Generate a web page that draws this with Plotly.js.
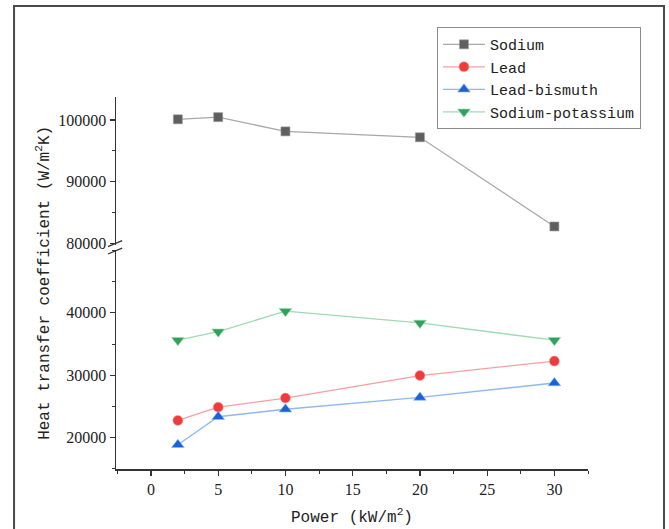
<!DOCTYPE html>
<html>
<head>
<meta charset="utf-8">
<script src="https://cdn.plot.ly/plotly-3.0.1.min.js"></script>
<style>
  html, body { margin: 0; padding: 0; background: #ffffff; }
  #chart { width: 669px; height: 529px; }
</style>
</head>
<body>
<div id="chart"></div>
<script>
// Data
const power = [2, 5, 10, 20, 30];
const sodium = [100100, 100450, 98150, 97200, 82800];
const lead = [22760, 24880, 26340, 29950, 32270];
const leadBismuth = [18860, 23350, 24550, 26440, 28760];
const sodiumPotassium = [35620, 36980, 40280, 38390, 35620];

const seriesNames = ['Sodium', 'Lead', 'Lead-bismuth', 'Sodium-potassium'];
const xTickVals = [0, 5, 10, 15, 20, 25, 30];
const yLowTickVals = [20000, 30000, 40000];
const yHighTickVals = [80000, 90000, 100000];

const monoFont = 'Liberation Mono, DejaVu Sans Mono, monospace';
const serifFont = 'Times New Roman, Liberation Serif, DejaVu Serif, serif';

const traces = [
  {
    x: power, y: sodium, name: seriesNames[0], yaxis: 'y2', type: 'scatter', mode: 'lines+markers',
    line: {color: '#a8a8a8', width: 1.3},
    marker: {symbol: 'square', size: 9, color: '#5f5f5f', line: {color: '#9a9a9a', width: 0.6}}
  },
  {
    x: power, y: lead, name: seriesNames[1], yaxis: 'y', type: 'scatter', mode: 'lines+markers',
    line: {color: '#f5a0a0', width: 1.3},
    marker: {symbol: 'circle', size: 10, color: '#ee3b3b', line: {color: '#f5a0a0', width: 0.6}}
  },
  {
    x: power, y: leadBismuth, name: seriesNames[2], yaxis: 'y', type: 'scatter', mode: 'lines+markers',
    line: {color: '#8fb8ee', width: 1.3},
    marker: {symbol: 'triangle-up', size: 11, color: '#1763dc', line: {color: '#8fb8ee', width: 0.6}}
  },
  {
    x: power, y: sodiumPotassium, name: seriesNames[3], yaxis: 'y', type: 'scatter', mode: 'lines+markers',
    line: {color: '#9fdab3', width: 1.3},
    marker: {symbol: 'triangle-down', size: 11, color: '#2ea25a', line: {color: '#9fdab3', width: 0.6}}
  }
];

const axisColor = '#333333';

const layout = {
  width: 669,
  height: 529,
  paper_bgcolor: '#ffffff',
  plot_bgcolor: '#ffffff',
  margin: {l: 116, r: 81, t: 97, b: 60},
  showlegend: true,
  legend: {
    x: 0.68, y: 1.188, xanchor: 'left', yanchor: 'top',
    bgcolor: '#ffffff', bordercolor: '#8a8a8a', borderwidth: 1,
    font: {family: monoFont, size: 15, color: '#222'},
    itemwidth: 42,
    tracegroupgap: 0
  },
  xaxis: {
    range: [-2.6, 32.5],
    tickvals: xTickVals,
    tickformat: 'd',
    ticks: 'outside', ticklen: 5, tickwidth: 1.2, tickcolor: axisColor,
    minor: {dtick: 2.5, tick0: 0, ticks: 'outside', ticklen: 3, tickwidth: 1, tickcolor: axisColor},
    showline: true, linecolor: axisColor, linewidth: 1.5,
    showgrid: false, zeroline: false,
    tickfont: {family: serifFont, size: 16, color: '#222'},
    title: {text: 'Power (kW/m<sup>2</sup>)', font: {family: monoFont, size: 16, color: '#222'}, standoff: 14},
    automargin: false
  },
  yaxis: {
    domain: [0, 0.589],
    range: [14970, 50100],
    tickvals: yLowTickVals,
    tickformat: 'd',
    ticks: 'outside', ticklen: 5, tickwidth: 1.2, tickcolor: axisColor,
    minor: {dtick: 5000, tick0: 0, ticks: 'outside', ticklen: 3, tickwidth: 1, tickcolor: axisColor},
    showline: true, linecolor: axisColor, linewidth: 1.5,
    showgrid: false, zeroline: false,
    tickfont: {family: serifFont, size: 16, color: '#222'},
    automargin: false
  },
  yaxis2: {
    domain: [0.602, 1],
    range: [79800, 103700],
    tickvals: yHighTickVals,
    tickformat: 'd',
    ticks: 'outside', ticklen: 5, tickwidth: 1.2, tickcolor: axisColor,
    minor: {dtick: 5000, tick0: 0, ticks: 'outside', ticklen: 3, tickwidth: 1, tickcolor: axisColor},
    showline: true, linecolor: axisColor, linewidth: 1.5,
    showgrid: false, zeroline: false,
    tickfont: {family: serifFont, size: 16, color: '#222'},
    anchor: 'x',
    automargin: false
  },
  annotations: [
    {
      xref: 'paper', yref: 'paper', x: -0.155, y: 0.5,
      text: 'Heat transfer coefficient (W/m<sup>2</sup>K)',
      textangle: -90, showarrow: false,
      font: {family: monoFont, size: 16, color: '#222'},
      xanchor: 'center', yanchor: 'middle'
    }
  ],
  shapes: [
    // outer frame
    {type: 'rect', xref: 'paper', yref: 'paper', x0: -0.216, x1: 1.161, y0: -0.2, y1: 1.2446,
     line: {color: '#4a4a4a', width: 2}, layer: 'below'},
    // axis break marks
    {type: 'line', xref: 'paper', yref: 'paper', x0: -0.017, x1: 0.013, y0: 0.598, y1: 0.614,
     line: {color: axisColor, width: 1.3}},
    {type: 'line', xref: 'paper', yref: 'paper', x0: -0.017, x1: 0.013, y0: 0.578, y1: 0.594,
     line: {color: axisColor, width: 1.3}}
  ]
};

Plotly.newPlot('chart', traces, layout, {displayModeBar: false, staticPlot: true});
</script>
</body>
</html>
